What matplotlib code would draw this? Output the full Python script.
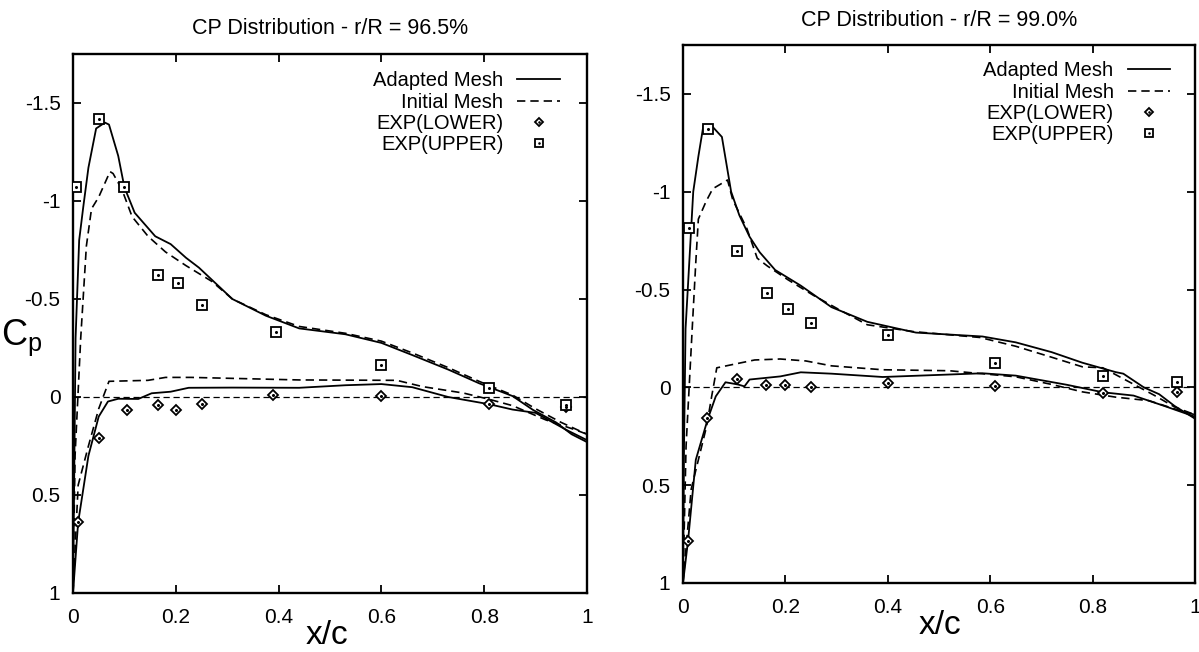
import matplotlib
matplotlib.use("Agg")
import matplotlib.pyplot as plt
from matplotlib.ticker import FuncFormatter

plt.rcParams['font.family'] = ['Liberation Sans', 'DejaVu Sans']
plt.rcParams['axes.unicode_minus'] = False
plt.rcParams['mathtext.fontset'] = 'custom'
plt.rcParams['mathtext.rm'] = 'Liberation Sans'
plt.rcParams['mathtext.it'] = 'Liberation Sans'

# ---------------- r/R = 96.5 % ----------------
x_up_adapt_965 = [0.0, 0.002, 0.005, 0.012, 0.02, 0.03, 0.045, 0.062, 0.07, 0.088, 0.10, 0.12,
                  0.16, 0.19, 0.22, 0.245, 0.31, 0.375, 0.44, 0.53, 0.60, 0.66, 0.73, 0.79,
                  0.855, 0.895, 0.94, 0.97, 1.0]
cp_up_adapt_965 = [1.0, 0.5, -0.3, -0.8, -0.97, -1.17, -1.37, -1.40, -1.39, -1.23, -1.07, -0.94,
                   -0.82, -0.78, -0.71, -0.66, -0.50, -0.415, -0.35, -0.32, -0.276, -0.214, -0.14, -0.07,
                   -0.005, 0.066, 0.13, 0.19, 0.23]
x_lo_adapt_965 = [0.0, 0.01, 0.03, 0.05, 0.068, 0.088, 0.127, 0.153, 0.19, 0.225, 0.31, 0.44,
                  0.53, 0.60, 0.66, 0.73, 0.81, 0.855, 0.90, 0.96, 1.0]
cp_lo_adapt_965 = [1.0, 0.64, 0.30, 0.10, 0.023, 0.009, 0.01, -0.019, -0.027, -0.047, -0.048, -0.047,
                   -0.06, -0.066, -0.05, 0.0, 0.037, 0.064, 0.081, 0.168, 0.22]
x_up_init_965 = [0.0, 0.004, 0.015, 0.026, 0.036, 0.05, 0.072, 0.078, 0.095, 0.115, 0.146, 0.18,
                 0.22, 0.27, 0.31, 0.375, 0.44, 0.53, 0.60, 0.66, 0.73, 0.79, 0.855, 0.90, 0.95, 1.0]
cp_up_init_965 = [1.0, 0.3, -0.30, -0.77, -0.96, -1.02, -1.15, -1.14, -1.06, -0.92, -0.82, -0.74,
                  -0.67, -0.59, -0.50, -0.42, -0.36, -0.325, -0.285, -0.225, -0.15, -0.08, -0.01, 0.06,
                  0.13, 0.19]
x_lo_init_965 = [0.0, 0.01, 0.03, 0.05, 0.07, 0.146, 0.18, 0.23, 0.44, 0.63, 0.68, 0.76, 0.81,
                 0.855, 0.92, 0.98, 1.0]
cp_lo_init_965 = [1.0, 0.45, 0.25, 0.06, -0.08, -0.085, -0.10, -0.10, -0.087, -0.085, -0.053, -0.02,
                  0.012, 0.044, 0.117, 0.17, 0.19]
x_exp_up_965 = [0.005, 0.05, 0.10, 0.165, 0.205, 0.25, 0.395, 0.60, 0.81, 0.96]
cp_exp_up_965 = [-1.07, -1.42, -1.07, -0.62, -0.58, -0.47, -0.33, -0.165, -0.045, 0.04]
x_exp_lo_965 = [0.01, 0.05, 0.105, 0.165, 0.20, 0.25, 0.39, 0.60, 0.81, 0.96]
cp_exp_lo_965 = [0.64, 0.21, 0.065, 0.043, 0.064, 0.035, -0.01, -0.006, 0.038, 0.05]

# ---------------- r/R = 99.0 % ----------------
x_up_adapt_990 = [0.0, 0.002, 0.005, 0.02, 0.03, 0.04, 0.055, 0.076, 0.094, 0.11, 0.13, 0.15, 0.18,
                  0.23, 0.29, 0.36, 0.42, 0.455, 0.585, 0.65, 0.72, 0.78, 0.845, 0.86, 0.90, 0.93,
                  0.96, 1.0]
cp_up_adapt_990 = [1.0, 0.3, -0.30, -1.0, -1.18, -1.34, -1.34, -1.28, -1.0, -0.88, -0.77, -0.69, -0.60,
                   -0.52, -0.41, -0.335, -0.30, -0.28, -0.26, -0.23, -0.18, -0.126, -0.078, -0.07, 0.0,
                   0.035, 0.095, 0.16]
x_lo_adapt_990 = [0.0, 0.01, 0.025, 0.048, 0.064, 0.083, 0.107, 0.12, 0.13, 0.19, 0.23, 0.29, 0.39,
                  0.585, 0.65, 0.75, 0.82, 0.88, 0.94, 1.0]
cp_lo_adapt_990 = [1.0, 0.78, 0.37, 0.165, 0.046, -0.026, -0.015, -0.005, -0.04, -0.056, -0.077, -0.07,
                   -0.053, -0.072, -0.06, -0.013, 0.025, 0.042, 0.095, 0.15]
x_up_init_990 = [0.0, 0.006, 0.018, 0.025, 0.03, 0.045, 0.058, 0.087, 0.097, 0.125, 0.145, 0.165,
                 0.205, 0.255, 0.31, 0.36, 0.45, 0.58, 0.65, 0.72, 0.78, 0.82, 0.87, 0.92, 0.96, 1.0]
cp_up_init_990 = [1.0, 0.3, -0.30, -0.64, -0.86, -0.95, -1.015, -1.06, -0.96, -0.81, -0.66, -0.62,
                  -0.55, -0.47, -0.39, -0.32, -0.285, -0.255, -0.21, -0.154, -0.105, -0.10, -0.03,
                  0.04, 0.10, 0.14]
x_lo_init_990 = [0.0, 0.016, 0.046, 0.056, 0.066, 0.14, 0.19, 0.24, 0.29, 0.39, 0.52, 0.65, 0.72,
                 0.78, 0.845, 0.91, 0.96, 1.0]
cp_lo_init_990 = [1.0, 0.52, 0.2, 0.046, -0.10, -0.14, -0.145, -0.135, -0.11, -0.09, -0.085, -0.054,
                  -0.015, 0.023, 0.05, 0.068, 0.11, 0.14]
x_exp_up_990 = [0.012, 0.048, 0.105, 0.165, 0.205, 0.25, 0.40, 0.61, 0.82, 0.965]
cp_exp_up_990 = [-0.815, -1.32, -0.695, -0.48, -0.40, -0.33, -0.27, -0.127, -0.058, -0.027]
x_exp_lo_990 = [0.01, 0.047, 0.105, 0.162, 0.20, 0.25, 0.40, 0.61, 0.82, 0.965]
cp_exp_lo_990 = [0.785, 0.155, -0.042, -0.01, -0.013, -0.001, -0.022, -0.009, 0.03, 0.025]

titles = ["CP Distribution - r/R = 96.5%", "CP Distribution - r/R = 99.0%"]
legend_labels = ["Adapted Mesh", "Initial Mesh", "EXP(LOWER)", "EXP(UPPER)"]
x_ticks = [0, 0.2, 0.4, 0.6, 0.8, 1]
y_ticks = [-1.5, -1, -0.5, 0, 0.5, 1]

panels = [
    dict(title=titles[0],
         adapt=(x_up_adapt_965, cp_up_adapt_965, x_lo_adapt_965, cp_lo_adapt_965),
         init=(x_up_init_965, cp_up_init_965, x_lo_init_965, cp_lo_init_965),
         exp_up=(x_exp_up_965, cp_exp_up_965), exp_lo=(x_exp_lo_965, cp_exp_lo_965),
         rect=(73, 54, 587, 593), leg=(0.947, 0.968), title_y=29, xlab=(327, 635)),
    dict(title=titles[1],
         adapt=(x_up_adapt_990, cp_up_adapt_990, x_lo_adapt_990, cp_lo_adapt_990),
         init=(x_up_init_990, cp_up_init_990, x_lo_init_990, cp_lo_init_990),
         exp_up=(x_exp_up_990, cp_exp_up_990), exp_lo=(x_exp_lo_990, cp_exp_lo_990),
         rect=(683, 45, 1195, 583), leg=(0.951, 0.970), title_y=21, xlab=(940, 626)),
]

W, H = 1199, 652
fig = plt.figure(figsize=(W / 100, H / 100), dpi=100)
dash = (0, (5, 3))
fmt = FuncFormatter(lambda v, p: f"{v:g}")

for p in panels:
    l, t, r, b = p["rect"]
    ax = fig.add_axes([l / W, 1 - b / H, (r - l) / W, (b - t) / H])
    ax.set_xlim(0, 1)
    ax.set_ylim(1, -1.75)

    # zero reference line
    ax.axhline(0, color="black", lw=0.9, ls=dash, zorder=1)

    xu, cu, xl, cl = p["adapt"]
    h_adapt, = ax.plot(xu, cu, color="black", lw=1.3)
    ax.plot(xl, cl, color="black", lw=1.3)
    xu, cu, xl, cl = p["init"]
    h_init, = ax.plot(xu, cu, color="black", lw=1.2, ls=dash)
    ax.plot(xl, cl, color="black", lw=1.2, ls=dash)

    ex, ec = p["exp_lo"]
    h_lo, = ax.plot(ex, ec, ls="none", marker="D", ms=5.5, mfc="white", mec="black", mew=1.3, zorder=4)
    h_lo_dot, = ax.plot(ex, ec, ls="none", marker="o", ms=1.2, color="black", zorder=5)
    ex, ec = p["exp_up"]
    h_up, = ax.plot(ex, ec, ls="none", marker="s", ms=7.5, mfc="white", mec="black", mew=1.3, zorder=4)
    h_up_dot, = ax.plot(ex, ec, ls="none", marker="o", ms=1.2, color="black", zorder=5)

    ax.set_xticks(x_ticks)
    ax.set_yticks(y_ticks)
    ax.xaxis.set_major_formatter(fmt)
    ax.yaxis.set_major_formatter(fmt)
    ax.tick_params(direction="in", length=6, width=1.3, top=True, right=True,
                   labelsize=15, pad=9)
    ax.tick_params(axis="x", pad=11)
    for s in ax.spines.values():
        s.set_linewidth(1.7)

    ax.legend([h_adapt, h_init, (h_lo, h_lo_dot), (h_up, h_up_dot)], legend_labels,
              loc="upper right", bbox_to_anchor=p["leg"], frameon=False, markerfirst=False,
              fontsize=14.5, handlelength=2.1, handletextpad=0.7, labelspacing=0.12,
              borderpad=0, borderaxespad=0, markerscale=0.7, numpoints=1)

    fig.text((l + r) / 2 / W, 1 - p["title_y"] / H, p["title"], ha="center", va="center",
             fontsize=15.5)
    fig.text(p["xlab"][0] / W, 1 - p["xlab"][1] / H, "x/c", ha="center", va="center",
             fontsize=24)

fig.text(22 / W, 1 - 338 / H, r"$\mathregular{C_p}$", ha="center", va="center", fontsize=26)

fig.savefig("out.png", dpi=100)
